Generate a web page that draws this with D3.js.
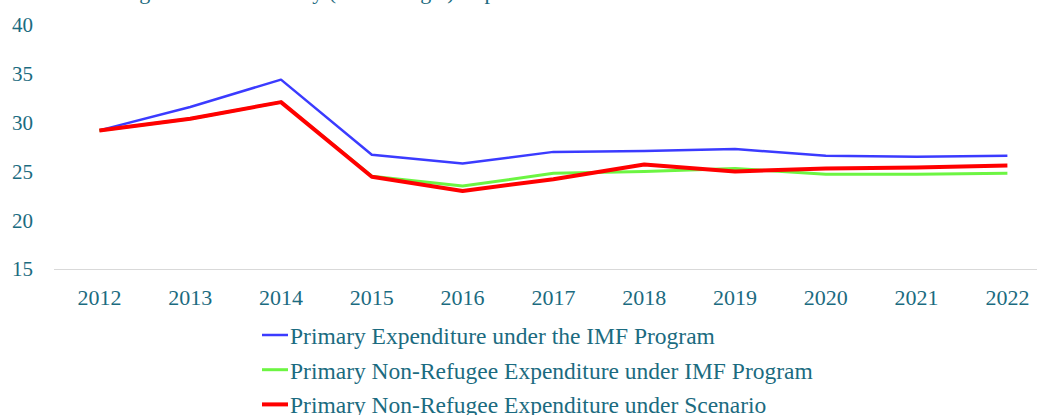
<!DOCTYPE html>
<html>
<head>
<meta charset="utf-8">
<script src="https://cdnjs.cloudflare.com/ajax/libs/d3/7.8.5/d3.min.js"></script>
<style>
body { margin: 0; background: #fff; }
</style>
</head>
<body>
<div id="chart"></div>
<script>
var width = 1037;
var height = 415;

// datos
var years = ["2012","2013","2014","2015","2016","2017","2018","2019","2020","2021","2022"];
var imf_total = [29.2, 31.6, 34.4, 26.7, 25.8, 27.0, 27.1, 27.3, 26.6, 26.5, 26.6];
var imf_non_refugee = [29.2, 30.4, 32.1, 24.5, 23.5, 24.8, 25.0, 25.3, 24.7, 24.7, 24.8];
var scenario_non_refugee = [29.2, 30.4, 32.1, 24.45, 23.0, 24.2, 25.7, 25.0, 25.3, 25.4, 25.6];
var y_ticks = [15, 20, 25, 30, 35, 40];
var series_names = ["Primary Expenditure under the IMF Program",
                    "Primary Non-Refugee Expenditure under IMF Program",
                    "Primary Non-Refugee Expenditure under Scenario"];
var series_colors = ["#3b3bff", "#6cf542", "#ff0000"];
var series_widths = [2.5, 3, 4];
var series = [imf_total, imf_non_refugee, scenario_non_refugee];

var fuente = "'Liberation Serif', 'Times New Roman', serif";
var color_texto = "#1b6b80";

var svg = d3.select("#chart")
			.append("svg")
			.attr("width", width)
			.attr("height", height)
			.attr("font-family", fuente);

// titulo (cortado arriba)
svg.append("text")
	.attr("x", 36)
	.attr("y", -1)
	.attr("font-size", 22)
	.attr("fill", color_texto)
	.text("Recent Budget and Fiscal Policy (% of Budget) Expenditure");

var x = d3.scaleBand()
			.domain(years)
			.range([54, 54 + 11 * 90.8]);

var y = d3.scaleLinear()
			.domain([15, 40])
			.range([269, 25]);

// eje y
svg.append("g")
	.selectAll("text")
	.data(y_ticks)
	.enter()
	.append("text")
	.attr("x", 33)
	.attr("y", function(d) { return y(d); })
	.attr("dy", "0.35em")
	.attr("text-anchor", "end")
	.attr("font-size", 21)
	.attr("fill", color_texto)
	.text(function(d) { return d; });

// linea base
svg.append("line")
	.attr("x1", 54)
	.attr("x2", width)
	.attr("y1", y(15) + 0.5)
	.attr("y2", y(15) + 0.5)
	.attr("stroke", "#d9d9d9")
	.attr("stroke-width", 1);

// eje x
svg.append("g")
	.selectAll("text")
	.data(years)
	.enter()
	.append("text")
	.attr("x", function(d) { return x(d) + x.bandwidth() / 2; })
	.attr("y", 305)
	.attr("text-anchor", "middle")
	.attr("font-size", 22)
	.attr("fill", color_texto)
	.text(function(d) { return d; });

var line = d3.line()
	.x(function(d, i) { return x(years[i]) + x.bandwidth() / 2; })
	.y(function(d) { return y(d); });

// lineas: azul, verde, roja encima
for (var k = 0; k < 3; k++) {
	svg.append("path")
		.datum(series[k])
		.attr("d", line)
		.attr("fill", "none")
		.attr("stroke", series_colors[k])
		.attr("stroke-width", series_widths[k])
		.attr("stroke-linejoin", "round");
}

// leyenda
var legend = svg.append("g");
for (var i = 0; i < 3; i++) {
	var ly = 335 + i * 34.7;
	legend.append("line")
		.attr("x1", 262)
		.attr("x2", 288)
		.attr("y1", ly)
		.attr("y2", ly)
		.attr("stroke", series_colors[i])
		.attr("stroke-width", series_widths[i]);
	legend.append("text")
		.attr("x", 290)
		.attr("y", ly + 9)
		.attr("font-size", 23.5)
		.attr("fill", color_texto)
		.text(series_names[i]);
}
</script>
</body>
</html>
